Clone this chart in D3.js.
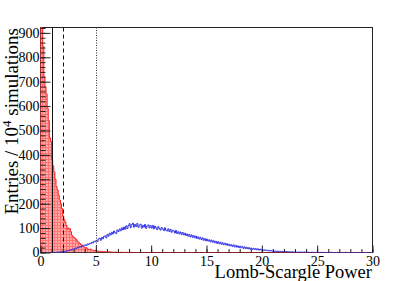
<!DOCTYPE html>
<html>
<head>
<meta charset="utf-8">
<script src="https://cdn.jsdelivr.net/npm/d3@7/dist/d3.min.js"></script>
<style>
  body { margin: 0; background: #fff; }
  svg text { font-family: "Liberation Serif", "DejaVu Serif", serif; fill: #000; }
</style>
</head>
<body>
<script>
// ---- data: 10^4 simulations, bin width 0.1 in Lomb-Scargle power ----
var binWidth = 0.1;
var nBins = 300;

// noise-only simulations (red, filled)
var noiseCounts = [
  1050, 930, 845, 720, 680, 650, 590, 540, 470, 455,
  380, 355, 330, 300, 270, 255, 235, 215, 200, 180,
  150, 135, 125, 110, 95, 100, 98, 85, 70, 65,
  60, 58, 52, 45, 42, 38, 33, 30, 25, 22,
  18, 20, 15, 13, 12, 14, 10, 9, 8, 8,
  7, 6, 6, 5, 4, 5, 3, 4, 3, 2,
  2, 2, 3, 1, 2, 1, 1, 2, 1, 1,
  1, 0, 1, 1, 0, 1, 0, 0, 1, 0,
  0, 1, 0, 0, 0, 0, 0, 0, 0, 0
];

// signal simulations (blue outline)
var signalCounts = [
  0, 0, 0, 0, 0, 0, 0, 0, 0, 0,
  0, 0, 1, 0, 1, 1, 2, 1, 3, 2,
  4, 3, 6, 5, 8, 7, 10, 9, 12, 14,
  15, 18, 16, 21, 19, 24, 22, 27, 25, 30,
  31, 28, 35, 33, 38, 36, 42, 39, 46, 44,
  50, 45, 56, 58, 50, 62, 56, 66, 68, 60,
  74, 67, 79, 72, 83, 76, 88, 81, 78, 92,
  86, 96, 89, 101, 93, 104, 95, 109, 98, 110,
  118, 102, 114, 120, 104, 115, 107, 119, 103, 112,
  116, 100, 111, 104, 115, 99, 109, 113, 101, 110,
  100, 111, 97, 108, 101, 94, 106, 98, 92, 102,
  97, 90, 101, 91, 88, 97, 86, 95, 83, 91,
  88, 80, 90, 78, 85, 76, 84, 74, 82, 72,
  79, 70, 76, 67, 74, 64, 72, 62, 69, 60,
  67, 58, 64, 55, 62, 53, 60, 50, 57, 48,
  55, 47, 52, 44, 51, 42, 48, 40, 46, 38,
  44, 36, 42, 34, 40, 32, 38, 31, 36, 29,
  34, 27, 32, 25, 31, 23, 29, 22, 27, 20,
  26, 19, 24, 17, 23, 16, 21, 15, 20, 14,
  18, 13, 17, 12, 16, 11, 15, 10, 14, 10,
  12, 9, 11, 8, 10, 7, 9, 6, 8, 6,
  7, 5, 6, 4, 6, 3, 5, 3, 5, 2,
  4, 2, 4, 2, 3, 2, 2, 3, 1, 2,
  2, 1, 1, 2, 1, 2, 1, 1, 2, 1,
  1, 1, 1, 0, 1, 1, 0, 1, 0, 1,
  1, 0, 0, 1, 0, 0, 1, 0, 0, 0,
  0, 0, 1, 0, 0, 0, 0, 0, 1, 0,
  0, 0, 0, 0, 0, 1, 0, 0, 0, 0,
  0, 0, 0, 0, 0, 0, 0, 0, 0, 0,
  0, 0, 0, 0, 0, 0, 0, 0, 0, 0
];

var xTicks = [0, 5, 10, 15, 20, 25, 30];
var yTicks = [0, 100, 200, 300, 400, 500, 600, 700, 800, 900];
var cutLines = [
  {value: 1, dash: null, color: "#111"},
  {value: 2, dash: "4,3", color: "#111"},
  {value: 5, dash: "1,1.5", color: "#333"}
];

// ---- layout ----
var W = 415, H = 281;
var frameL = 40.5, frameR = 372.5, frameT = 27.5, frameB = 252.5;

var svg = d3.select("body").append("svg")
            .attr("width", W)
            .attr("height", H);

var x = d3.scaleLinear().domain([0, 30]).range([frameL, frameR]);
var y = d3.scaleLinear().domain([0, 922]).range([frameB, frameT]);

// hatched red fill (ROOT-like pattern)
var defs = svg.append("defs");
var pat = defs.append("pattern")
              .attr("id", "redHatch")
              .attr("patternUnits", "userSpaceOnUse")
              .attr("width", 3)
              .attr("height", 3);
pat.append("rect").attr("width", 3).attr("height", 3).attr("fill", "#ff7373");
pat.append("rect").attr("x", 1).attr("y", 1).attr("width", 2).attr("height", 2).attr("fill", "#ffaaaa");

defs.append("clipPath").attr("id", "frameClip")
    .append("rect")
    .attr("x", frameL).attr("y", frameT)
    .attr("width", frameR - frameL).attr("height", frameB - frameT);

// frame
svg.append("rect")
   .attr("x", frameL).attr("y", frameT)
   .attr("width", frameR - frameL).attr("height", frameB - frameT)
   .attr("fill", "none")
   .attr("stroke", "#222")
   .attr("stroke-width", 1);

function stepPoints(counts) {
  var pts = [];
  for (var i = 0; i < nBins; i++) {
    var v = i < counts.length ? counts[i] : 0;
    pts.push([i * binWidth, v]);
  }
  pts.push([nBins * binWidth, pts[pts.length - 1][1]]);
  return pts;
}

var plot = svg.append("g").attr("clip-path", "url(#frameClip)");

var area = d3.area()
             .curve(d3.curveStepAfter)
             .x(function(d) { return x(d[0]); })
             .y0(y(0))
             .y1(function(d) { return y(d[1]); });

var line = d3.line()
             .curve(d3.curveStepAfter)
             .x(function(d) { return x(d[0]); })
             .y(function(d) { return y(d[1]); });

var redPts = stepPoints(noiseCounts);
plot.append("path")
    .attr("d", area(redPts))
    .attr("fill", "url(#redHatch)");
plot.append("path")
    .attr("d", line([[0, 0]].concat(redPts)))
    .attr("fill", "none")
    .attr("stroke", "#ff2020")
    .attr("stroke-width", 1);

plot.append("path")
    .attr("d", line(stepPoints(signalCounts)))
    .attr("fill", "none")
    .attr("stroke", "#3030e8")
    .attr("stroke-width", 1);

// cut lines
svg.selectAll(".cut")
   .data(cutLines)
   .enter()
   .append("line")
   .attr("class", "cut")
   .attr("x1", function(d) { return Math.round(x(d.value)) + 0.5; })
   .attr("x2", function(d) { return Math.round(x(d.value)) + 0.5; })
   .attr("y1", frameT)
   .attr("y2", frameB)
   .attr("stroke", function(d) { return d.color; })
   .attr("stroke-dasharray", function(d) { return d.dash; })
   .attr("stroke-width", 1);

// ---- axes ----
var xMinor = d3.range(0, 31, 1);
var yMinor = d3.range(0, 921, 20);

var xMinorAxis = svg.append("g")
   .attr("transform", "translate(0," + frameB + ")")
   .call(d3.axisBottom(x).tickValues(xMinor).tickSize(-3.5).tickFormat(""));
var xMajorAxis = svg.append("g")
   .attr("transform", "translate(0," + frameB + ")")
   .call(d3.axisBottom(x).tickValues(xTicks).tickSize(-7).tickPadding(4).tickFormat(d3.format("d")));
var yMinorAxis = svg.append("g")
   .attr("transform", "translate(" + frameL + ",0)")
   .call(d3.axisLeft(y).tickValues(yMinor).tickSize(-5).tickFormat(""));
var yMajorAxis = svg.append("g")
   .attr("transform", "translate(" + frameL + ",0)")
   .call(d3.axisLeft(y).tickValues(yTicks).tickSize(-10).tickPadding(1).tickFormat(d3.format("d")));

[xMinorAxis, xMajorAxis, yMinorAxis, yMajorAxis].forEach(function(a) {
  a.attr("font-family", "Liberation Serif").attr("font-size", 14);
  a.select(".domain").remove();
  a.selectAll(".tick line").attr("stroke", "#222");
  a.selectAll("text").attr("font-size", 14);
});

// axis titles
svg.append("text")
   .attr("x", 372)
   .attr("y", 278)
   .attr("text-anchor", "end")
   .attr("font-size", 18.5)
   .text("Lomb-Scargle Power");

var yTitle = svg.append("text")
   .attr("transform", "translate(17.5,28) rotate(-90)")
   .attr("text-anchor", "end")
   .attr("font-size", 19);
yTitle.append("tspan").text("Entries / 10");
yTitle.append("tspan").attr("font-size", 13).attr("dy", -7).text("4");
yTitle.append("tspan").attr("dy", 7).text(" simulations");
</script>
</body>
</html>
